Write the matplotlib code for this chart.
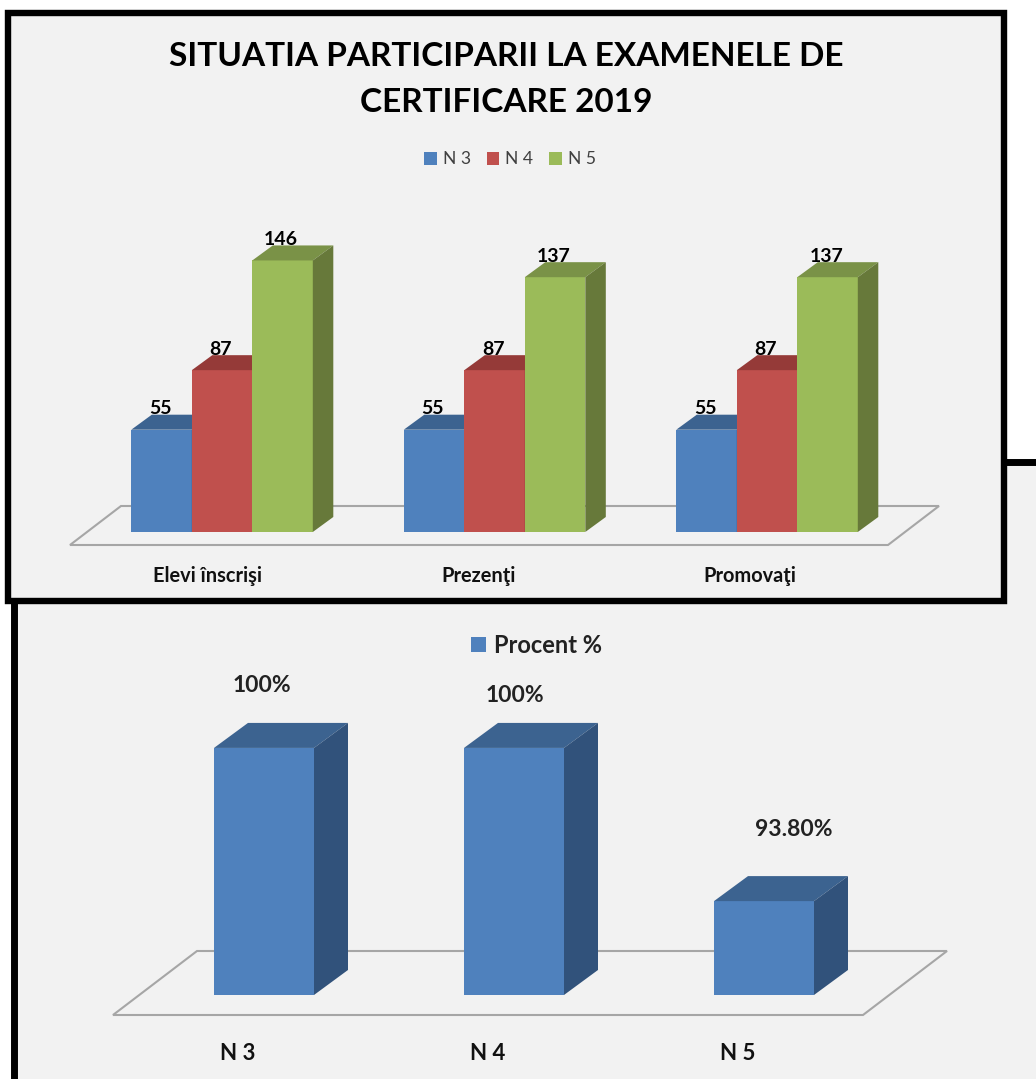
import matplotlib
matplotlib.use("Agg")
import matplotlib.pyplot as plt
from matplotlib.patches import Rectangle
import numpy as np

W, H = 1036, 1079

# data
categories = ["Elevi înscrişi", "Prezenţi", "Promovaţi"]
series_names = ["N 3", "N 4", "N 5"]
n3_values = [55, 55, 55]
n4_values = [87, 87, 87]
n5_values = [146, 137, 137]

procent_names = ["N 3", "N 4", "N 5"]
procent_values = [100, 100, 93.8]
procent_labels = ["100%", "100%", "93.80%"]

# colours: front, top, side
BLUE = ("#4F81BD", "#3C6390", "#31527B")
RED = ("#C0504D", "#953A38", "#7F3432")
GREEN = ("#9BBB59", "#7A9247", "#67793A")

plt.rcParams["font.family"] = ["Lato", "DejaVu Sans"]
fig = plt.figure(figsize=(W / 100, H / 100), dpi=100, facecolor="white")


def px_axes(l, t, r, b):
    ax = fig.add_axes([l / W, 1 - b / H, (r - l) / W, (b - t) / H])
    ax.patch.set_visible(False)
    for s in ax.spines.values():
        s.set_visible(False)
    ax.set_yticks([])
    ax.tick_params(axis="x", length=0)
    return ax


def bar3d(ax, x, w, v, base, cols, dx, dy):
    bar = ax.bar(x, v - base, w, bottom=base, color=cols[0], linewidth=0)
    r = x + w / 2
    l = x - w / 2
    ax.fill([l, l + dx, r + dx, r], [v, v + dy, v + dy, v], color=cols[1], linewidth=0)
    ax.fill([r, r + dx, r + dx, r], [base, base + dy, v + dy, v], color=cols[2], linewidth=0)
    return bar


def floor(ax, inset, h):
    ax.fill([0, 1 - inset, 1, inset, 0], [0, 0, h, h, 0], transform=ax.transAxes,
            facecolor="none", edgecolor="#A6A6A6", linewidth=1.5, clip_on=False)


# panels and frames
bg = fig.add_axes([0, 0, 1, 1])
bg.set_xlim(0, W)
bg.set_ylim(H, 0)
bg.axis("off")
bg.add_patch(Rectangle((13.7, 461.5), 1040, 640, facecolor="#F2F2F2", edgecolor="black", linewidth=5))
bg.add_patch(Rectangle((8, 13), 995.5, 588, facecolor="#F2F2F2", edgecolor="black", linewidth=4.6, zorder=2))

bg.text(506, 57, "SITUATIA PARTICIPARII LA EXAMENELE DE", ha="center", va="center",
        fontsize=24, fontweight="bold", color="black", zorder=3)
bg.text(506, 102, "CERTIFICARE 2019", ha="center", va="center",
        fontsize=24, fontweight="bold", color="black", zorder=3)

# top chart
ax1 = px_axes(70, 200, 939, 545)
ax1.set_xlim(-0.558, 2.631)
ax1.set_ylim(-7, 178.5)
floor(ax1, 51 / 869, 39 / 345)

x1 = np.arange(len(categories))
w1 = 60.5 / 272.5
dx1 = 20.5 / 272.5
dy1 = 15 / 1.86
handles = []
for i, (vals, cols) in enumerate(zip([n3_values, n4_values, n5_values], [BLUE, RED, GREEN])):
    for j, v in enumerate(vals):
        xc = x1[j] + (i - 1) * w1
        b = bar3d(ax1, xc, w1, v, 0, cols, dx1, dy1)
        ax1.annotate(str(v), (xc, v), xytext=(-1, 15), textcoords="offset points",
                     ha="center", va="center", fontsize=14, fontweight="bold", color="black")
    handles.append(b)

ax1.set_xticks(x1 + np.array([-0.055, -0.059, -0.062]), categories, fontsize=14.4, fontweight="bold", color="#111111")
ax1.tick_params(axis="x", pad=15)
ax1.legend(handles, series_names, loc="center", bbox_to_anchor=(510 / W, 1 - 159.5 / H),
           bbox_transform=fig.transFigure, ncol=3, frameon=False, fontsize=12.6,
           handlelength=0.72, handleheight=0.72, handletextpad=0.35, columnspacing=0.9,
           labelcolor="#404040", borderpad=0, borderaxespad=0)

# bottom chart
ax2 = px_axes(113, 700, 947, 1015)
ax2.set_xlim(-0.604, 2.732)
ax2.set_ylim(89.19, 101.94)
floor(ax2, 84 / 834, 64 / 315)

x2 = np.arange(len(procent_names))
for j, v in enumerate(procent_values):
    b2 = bar3d(ax2, x2[j], 0.4, v, 90, BLUE, 34 / 250, 25 / 24.7)
ax2.set_xticks(x2 - 0.104, procent_names, fontsize=16, fontweight="bold", color="#111111")
ax2.tick_params(axis="x", pad=20)
ax2.legend([b2], ["Procent %"], loc="center", bbox_to_anchor=(536.5 / W, 1 - 645.5 / H),
           bbox_transform=fig.transFigure, frameon=False,
           handlelength=0.62, handleheight=0.62, handletextpad=0.35,
           labelcolor="#222222", borderpad=0, borderaxespad=0,
           prop={"weight": "bold", "size": 17})

for lab, px, py in zip(procent_labels, [262, 515, 794], [685, 695, 830]):
    bg.text(px, py, lab, ha="center", va="center", fontsize=16.5, fontweight="bold", color="#222222", zorder=3)

fig.savefig("out.png", dpi=100)
